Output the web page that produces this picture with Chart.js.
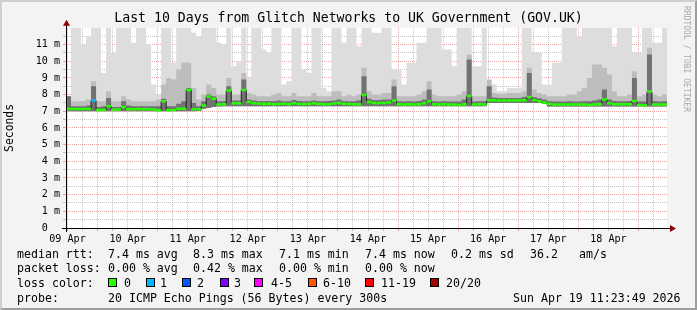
<!DOCTYPE html>
<html><head><meta charset="utf-8">
<script src="https://cdn.jsdelivr.net/npm/chart.js@4.4.1/dist/chart.umd.min.js"></script>
<style>
html,body{margin:0;padding:0;background:#f3f3f3;}
#wrap{position:relative;width:697px;height:310px;overflow:hidden;background:#f3f3f3;font-family:"DejaVu Sans Mono",monospace;color:#000;}
#frame{position:absolute;left:0;top:0;width:697px;height:310px;box-sizing:border-box;border-top:2px solid #cfcfcf;border-left:2px solid #cfcfcf;border-right:2px solid #9e9e9e;border-bottom:2px solid #9e9e9e;}
#c{position:absolute;left:0;top:0;}
.t{position:absolute;font-size:11.6px;line-height:14px;white-space:pre;}
.box{position:absolute;width:7px;height:7px;border:1px solid #000;}
#wm{position:absolute;left:681px;top:6px;font-size:8px;color:#a8a8a8;writing-mode:vertical-rl;white-space:pre;line-height:10px;}
</style></head>
<body>
<div id="wrap">
<div id="frame"></div>
<canvas id="c" width="697" height="310" style="width:697px;height:310px"></canvas>
<div id="wm">RRDTOOL / TOBI OETIKER</div>
<div id="legend"></div>
</div>
<script>
// ---------- data (values in milliseconds, one bin = 2 hours) ----------
const chartTitle = "Last 10 Days from Glitch Networks to UK Government (GOV.UK)";
const yAxisTitle = "Seconds";
const binHours = 2;
const rangeHours = 240;
const firstGridOffsetH = 0.603; // graph starts Apr 9 11:23:49; first 6-hour clock mark is 12:00
const dayLabels = ["09 Apr","10 Apr","11 Apr","12 Apr","13 Apr","14 Apr","15 Apr","16 Apr","17 Apr","18 Apr"];
const yTickValues = [0,0.5,1,1.5,2,2.5,3,3.5,4,4.5,5,5.5,6,6.5,7,7.5,8,8.5,9,9.5,10,10.5,11,11.5,12];

const medianMs = [
7.14,7.14,7.14,7.14,7.14,7.64,7.08,7.08,7.30,7.09,
7.10,7.25,7.12,7.12,7.13,7.12,7.12,7.10,7.06,7.60,
7.06,7.08,7.15,7.15,8.28,7.12,7.12,7.35,7.88,7.75,
7.40,7.42,8.24,7.48,7.48,8.28,7.56,7.48,7.46,7.44,
7.45,7.42,7.44,7.45,7.42,7.48,7.44,7.43,7.43,7.48,
7.44,7.42,7.42,7.46,7.50,7.45,7.43,7.42,7.42,7.98,
7.55,7.50,7.50,7.50,7.52,7.64,7.42,7.40,7.42,7.40,
7.42,7.48,7.60,7.42,7.40,7.42,7.40,7.40,7.38,7.42,
7.92,7.40,7.42,7.40,7.66,7.66,7.65,7.65,7.65,7.64,
7.64,7.66,7.86,7.68,7.60,7.52,7.45,7.40,7.40,7.40,
7.40,7.40,7.40,7.40,7.38,7.40,7.42,7.70,7.48,7.42,
7.42,7.42,7.42,7.62,7.38,7.36,8.18,7.40,7.40,7.40];

const lossCount = [
0,0,0,0,0,1,0,0,0,0, 0,0,0,0,0,0,0,0,0,0, 0,0,0,0,0,0,0,0,0,0,
0,0,0,0,0,0,0,0,0,0, 0,0,0,0,0,0,0,0,0,0, 0,0,0,0,0,0,0,0,0,0,
0,0,0,0,0,0,0,0,0,0, 0,0,0,0,0,0,0,0,0,0, 0,0,0,0,0,0,0,0,0,0,
0,0,0,0,0,0,0,0,0,0, 0,0,0,0,0,0,0,0,0,0, 0,0,0,0,0,0,0,0,0,0];

const smokeLowMs = [
7.00,7.00,7.00,7.00,7.00,7.00,7.00,7.00,7.00,7.00,
7.00,7.00,7.00,7.00,7.00,7.00,7.00,7.00,7.00,7.00,
7.00,7.00,7.00,7.00,7.00,7.00,7.02,7.15,7.20,7.25,
7.28,7.30,7.30,7.30,7.30,7.30,7.30,7.30,7.30,7.30,
7.30,7.30,7.30,7.30,7.30,7.30,7.30,7.30,7.30,7.30,
7.30,7.30,7.30,7.30,7.30,7.30,7.30,7.30,7.30,7.30,
7.30,7.30,7.30,7.30,7.30,7.30,7.30,7.30,7.30,7.30,
7.30,7.30,7.30,7.30,7.30,7.30,7.30,7.30,7.30,7.30,
7.30,7.30,7.30,7.30,7.50,7.50,7.50,7.50,7.50,7.50,
7.50,7.50,7.50,7.50,7.50,7.45,7.28,7.28,7.28,7.28,
7.28,7.28,7.28,7.28,7.28,7.28,7.28,7.28,7.28,7.28,
7.28,7.28,7.28,7.28,7.28,7.28,7.28,7.28,7.28,7.28];

const smokeDarkMs = [
7.90,7.30,7.30,7.30,7.35,8.50,7.25,7.30,7.80,7.25,
7.25,7.60,7.35,7.30,7.30,7.30,7.30,7.30,7.30,7.75,
7.30,7.30,7.45,7.60,8.40,7.50,7.30,7.60,8.00,7.90,
7.60,7.60,8.50,7.65,7.65,8.90,7.70,7.65,7.62,7.60,
7.62,7.60,7.65,7.60,7.60,7.68,7.62,7.60,7.60,7.65,
7.60,7.60,7.62,7.65,7.70,7.62,7.60,7.60,7.65,9.10,
7.75,7.68,7.68,7.70,7.70,8.50,7.60,7.58,7.60,7.58,
7.62,7.70,8.30,7.60,7.58,7.60,7.58,7.58,7.58,7.70,
10.10,7.58,7.60,7.60,8.50,7.82,7.80,7.80,7.80,7.80,
7.80,7.85,9.30,7.85,7.78,7.70,7.62,7.58,7.58,7.58,
7.60,7.58,7.58,7.60,7.60,7.65,7.70,8.30,7.70,7.62,
7.60,7.60,7.62,9.00,7.58,7.58,10.40,7.60,7.58,7.60];

const smokeMidMs = [
7.90,7.60,7.60,7.60,7.70,8.80,7.60,7.60,8.20,7.60,
7.60,7.90,7.70,7.60,7.60,7.60,7.60,7.60,7.70,8.60,
9.00,8.90,9.50,9.90,9.90,8.40,7.70,8.00,8.60,8.40,
8.00,8.00,9.00,8.00,8.00,9.30,8.10,8.00,7.90,7.90,
7.90,8.00,8.10,7.90,7.90,8.10,7.90,7.90,7.90,8.10,
7.90,7.90,7.90,8.20,8.20,7.90,8.00,7.90,8.00,9.60,
8.20,8.00,8.00,8.10,8.10,8.90,7.90,7.90,7.90,7.90,
8.00,8.20,8.80,8.00,7.90,7.90,7.90,7.90,8.00,8.20,
10.40,7.90,7.90,7.90,8.90,8.10,8.05,8.05,8.10,8.10,
8.10,8.20,9.60,8.30,8.10,8.00,7.90,7.90,7.90,7.90,
8.00,8.00,8.20,8.40,9.00,9.80,9.80,9.60,9.20,8.20,
7.90,7.90,8.00,9.40,7.90,8.00,10.80,8.00,7.90,8.00];

const smokeHighMs = [
7.90,12.5,12.5,11.0,11.5,12.5,12.5,9.30,12.5,10.5,
12.5,12.5,12.5,11.1,12.5,12.5,11.0,8.60,8.00,12.5,
12.5,9.90,12.5,12.5,12.5,11.7,11.5,12.5,12.5,12.5,
11.1,11.0,12.5,9.70,10.0,12.5,9.00,12.5,12.5,10.7,
10.5,12.5,12.5,8.60,8.80,12.5,12.5,9.50,9.30,12.5,
12.5,8.40,8.20,12.5,12.5,11.1,12.5,12.5,10.9,12.5,
12.5,11.7,11.7,12.5,12.5,9.50,9.50,8.60,9.90,9.90,
11.1,11.1,12.5,12.5,12.5,10.7,10.7,9.70,12.5,12.5,
12.5,9.70,9.70,12.5,8.60,8.60,8.20,8.20,8.40,8.40,
8.40,12.5,12.5,10.5,10.5,8.60,8.60,9.90,9.90,12.5,
12.5,12.5,11.5,12.5,12.5,12.5,12.5,12.5,12.5,10.9,
12.5,12.5,12.5,10.5,10.5,12.5,12.5,11.1,11.1,12.5];

// ---------- legend text ----------
const legendHeads = ["median rtt:", "packet loss:", "loss color:", "probe:"];
const rttStats = ["7.4 ms avg", "8.3 ms max", "7.1 ms min", "7.4 ms now", "0.2 ms sd", "36.2", "am/s"];
const lossStats = ["0.00 % avg", "0.42 % max", "0.00 % min", "0.00 % now"];
const lossBucketLabels = ["0", "1", "2", "3", "4-5", "6-10", "11-19", "20/20"];
const lossBucketColors = ["#26ff00", "#00b8ff", "#0059ff", "#7e00ff", "#ff00ff", "#ff5500", "#ff0000", "#a10000"];
const probeText = "20 ICMP Echo Pings (56 Bytes) every 300s";
const stampText = "Sun Apr 19 11:23:49 2026";

// ---------- layout of the legend (pixels) ----------
const legendRowsY = [247, 261, 276, 291];
const headX = 17;
const rttX = [108, 193, 279, 365, 451, 530, 579];
const lossX = [108, 193, 279, 365];
const boxX = [108, 146, 182, 220, 254, 308, 365, 430];
const boxLabelX = [124, 160, 197, 234, 271, 323, 381, 446];
const stampX = 513;

const leg = document.getElementById('legend');
function addText(txt, x, y){ const d=document.createElement('div'); d.className='t'; d.style.left=x+'px'; d.style.top=y+'px'; d.textContent=txt; leg.appendChild(d); }
legendHeads.forEach((h,i)=>addText(h, headX, legendRowsY[i]));
rttStats.forEach((s,i)=>addText(s, rttX[i], legendRowsY[0]));
lossStats.forEach((s,i)=>addText(s, lossX[i], legendRowsY[1]));
lossBucketLabels.forEach((s,i)=>{
  const b=document.createElement('div'); b.className='box'; b.style.left=boxX[i]+'px'; b.style.top=(legendRowsY[2]+2)+'px'; b.style.background=lossBucketColors[i]; leg.appendChild(b);
  addText(s, boxLabelX[i], legendRowsY[2]);
});
addText(probeText, rttX[0], legendRowsY[3]);
addText(stampText, stampX, legendRowsY[3]);

// ---------- chart ----------
function bucketOf(n){ if(n<=3) return n; if(n<=5) return 4; if(n<=10) return 5; if(n<=19) return 6; return 7; }
function stepPoints(arr){ const p = arr.map((v,i)=>({x:i*binHours, y:v})); p.push({x:arr.length*binHours, y:arr[arr.length-1]}); return p; }
const gridHours = [];
for (let h = firstGridOffsetH; h < rangeHours; h += 6) gridHours.push(h);

const MONO = '"DejaVu Sans Mono", monospace';
const RED = 'rgba(222,110,110,0.62)';
const GRAY = 'rgba(150,150,150,0.55)';

const framePlugin = {
  id: 'framePlugin',
  beforeDraw(chart){
    const {ctx, chartArea:a} = chart;
    ctx.save(); ctx.fillStyle = '#ffffff'; ctx.fillRect(a.left, a.top, a.right-a.left, a.bottom-a.top); ctx.restore();
  },
  afterDraw(chart){
    const {ctx, chartArea:a} = chart;
    const yb = Math.round(a.bottom) + 0.5, xl = Math.round(a.left) + 0.5;
    ctx.save();
    ctx.strokeStyle = '#000'; ctx.lineWidth = 1;
    ctx.beginPath(); ctx.moveTo(a.left-4, yb); ctx.lineTo(a.right+4, yb); ctx.stroke();
    ctx.beginPath(); ctx.moveTo(xl, a.bottom+4); ctx.lineTo(xl, a.top-3); ctx.stroke();
    ctx.fillStyle = '#8b0000';
    ctx.beginPath(); ctx.moveTo(a.right+3, yb-3.5); ctx.lineTo(a.right+9, yb); ctx.lineTo(a.right+3, yb+3.5); ctx.closePath(); ctx.fill();
    ctx.beginPath(); ctx.moveTo(xl-3.5, a.top-2); ctx.lineTo(xl, a.top-8); ctx.lineTo(xl+3.5, a.top-2); ctx.closePath(); ctx.fill();
    ctx.restore();
  }
};

const common = {pointRadius:0, borderWidth:0, stepped:true, yAxisID:'y', xAxisID:'x', borderColor:'rgba(0,0,0,0)'};
new Chart(document.getElementById('c'), {
  type: 'line',
  data: {
    datasets: [
      Object.assign({}, common, {label:'low', data: stepPoints(smokeLowMs), fill:false, order:10}),
      Object.assign({}, common, {label:'high', data: stepPoints(smokeHighMs), fill:0, backgroundColor:'#dddddd', order:9}),
      Object.assign({}, common, {label:'mid', data: stepPoints(smokeMidMs), fill:0, backgroundColor:'#bdbdbd', order:8}),
      Object.assign({}, common, {label:'dark', data: stepPoints(smokeDarkMs), fill:0, backgroundColor:'#727272', order:7}),
      Object.assign({}, common, {label:'medianJoin', data: stepPoints(medianMs), fill:false, borderWidth:1, borderColor:'#222222', order:2}),
      {label:'median', data: medianMs.map((v,i)=>({x:i*binHours+binHours/2, y:v})), showLine:false, yAxisID:'y', xAxisID:'x',
       pointStyle:'line', pointRadius:2.5, pointBorderWidth:2.5,
       pointBorderColor: lossCount.map(n=>lossBucketColors[bucketOf(n)]),
       pointBackgroundColor: lossCount.map(n=>lossBucketColors[bucketOf(n)]), order:1}
    ]
  },
  options: {
    responsive:false, animation:false, events:[], devicePixelRatio:1,
    layout:{padding:0},
    plugins:{
      legend:{display:false}, tooltip:{enabled:false},
      title:{display:true, text:chartTitle, color:'#000', font:{family:MONO, size:13.2, weight:'normal'}, padding:{top:11,bottom:1}}
    },
    scales:{
      x:{type:'linear', position:'bottom', min:0, max:rangeHours, z:1,
         afterFit(s){ s.height = 82; },
         afterBuildTicks(s){ s.ticks = gridHours.map(v=>({value:v})); },
         border:{display:false, dash:[1,1]},
         grid:{color:c=>(c.index%4===2?RED:GRAY), tickColor:c=>(c.index%4===2?RED:GRAY), tickLength:3, drawTicks:true},
         ticks:{autoSkip:false, maxRotation:0, minRotation:0, padding:2, color:'#000', font:{family:MONO, size:10.1},
                callback:(v,i)=>(i%4===0 ? dayLabels[i/4] : '')}
      },
      y:{type:'linear', position:'left', min:0, max:12, z:1,
         afterFit(s){ s.width = 66; },
         afterBuildTicks(s){ s.ticks = yTickValues.map(v=>({value:v})); },
         border:{display:false, dash:[1,1]},
         grid:{color:c=>{const v=c.tick.value; if(v<=0||v>=12) return 'rgba(0,0,0,0)'; return Number.isInteger(v)?RED:GRAY;},
               tickColor:c=>{const v=c.tick.value; if(v<=0||v>=12) return 'rgba(0,0,0,0)'; return Number.isInteger(v)?RED:GRAY;},
               tickLength:3},
         ticks:{autoSkip:false, padding:3, color:'#000', font:{family:MONO, size:10.1},
                callback:v=>(v===0 ? '0  ' : (Number.isInteger(v) && v<12 ? v+' m' : ''))},
         title:{display:true, text:yAxisTitle, color:'#000', font:{family:MONO, size:11.4}, padding:{top:3,bottom:0}}
      },
      yRight:{axis:'y', type:'linear', position:'right', display:true,
         afterFit(s){ s.width = 30; },
         grid:{display:false}, border:{display:false}, ticks:{display:false}}
    }
  },
  plugins:[framePlugin]
});
</script>
</body></html>
